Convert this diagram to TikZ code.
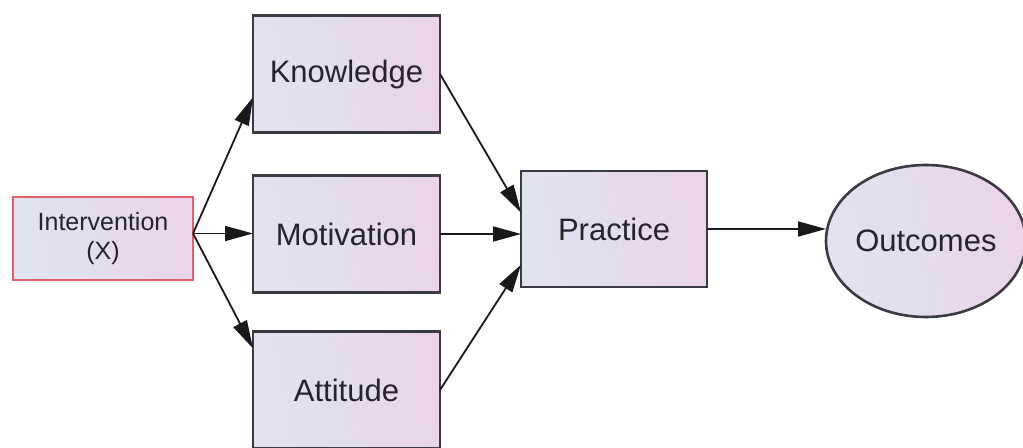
\documentclass[tikz,border=0pt]{standalone}
\usepackage{fontspec}
\setmainfont{Liberation Sans}
\usepackage{tikz}
\definecolor{boxleft}{HTML}{DFE4EF}
\definecolor{boxright}{HTML}{EAD4EA}
\definecolor{boxline}{HTML}{3A3A42}
\definecolor{ivline}{HTML}{E0606E}
\definecolor{txt}{HTML}{24242A}
\usetikzlibrary{arrows.meta, positioning, shapes.geometric}

\begin{document}
\begin{tikzpicture}[
  fbox/.style={rectangle, draw=boxline, line width=1.3pt, left color=boxleft, right color=boxright,
    shading angle=100, minimum width=93.5pt, minimum height=58.5pt, inner sep=0pt, outer sep=0pt,
    text=txt, font=\fontsize{15.5}{18}\selectfont},
  ivbox/.style={fbox, draw=ivline, line width=1pt, minimum width=90pt, minimum height=41.5pt,
    align=center, font=\fontsize{12.5}{14.5}\selectfont},
  obox/.style={fbox, ellipse, minimum width=98pt, minimum height=76pt},
  ->/.style={-{Triangle[length=14pt, width=7.5pt]}, line width=0.9pt, draw=black!90}]
  \useasboundingbox (-51.5pt,-104.75pt) rectangle (460pt,119.25pt);
  \node[ivbox] (iv) at (0,0) {Intervention\\(X)};
  \node[fbox] (mo) [right = 30pt of iv, yshift=2.25pt] {Motivation};
  \node[fbox] (kn) [above = 21.5pt of mo] {Knowledge};
  \node[fbox] (at) [below = 19.5pt of mo] {Attitude};
  \node[fbox, minimum width=93pt, minimum height=58pt] (pr) [right = 40.5pt of mo, yshift=2.5pt] {Practice};
  \node[obox] (oc) [right = 59.5pt of pr, yshift=-6pt] {Outcomes};
  % fan out from the intervention
  \draw[->] ([yshift=2.5pt]iv.east) to (kn.194);
  \draw[->] ([yshift=2.5pt]iv.east) to ([yshift=2.5pt]iv.east -| mo.west);
  \draw[->] ([yshift=2.5pt]iv.east) to (at.156);
  % into practice
  \draw[->] (kn.east) to (pr.170);
  \draw[->] (mo.east) to (mo.east -| pr.west);
  \draw[->] (at.east) to (pr.201);
  \draw[->] (pr.east) to (pr.east -| oc.west);
\end{tikzpicture}
\end{document}
